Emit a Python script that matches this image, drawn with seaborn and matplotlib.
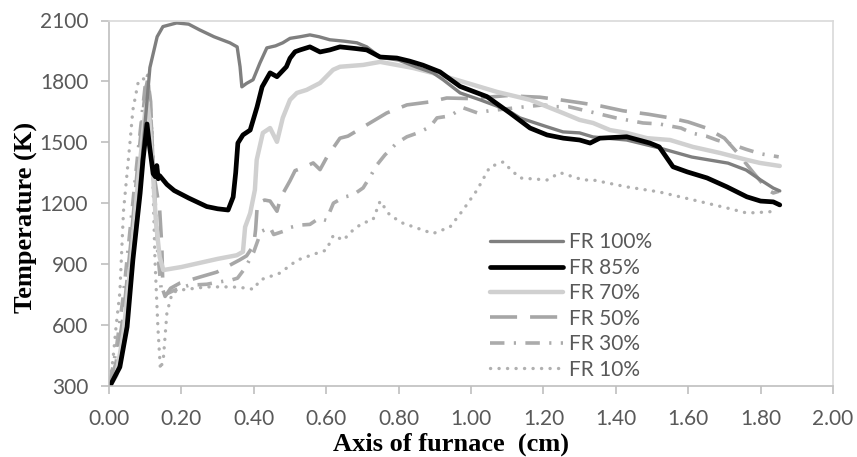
import matplotlib
matplotlib.use("Agg")
import matplotlib.pyplot as plt
import seaborn as sns
import pandas as pd

# ---------------- data ----------------
x100 = [0.003, 0.03, 0.05, 0.066, 0.086, 0.10, 0.113, 0.133, 0.149, 0.187, 0.22, 0.25, 0.29, 0.334, 0.354,
        0.362, 0.367, 0.38, 0.398, 0.417, 0.436, 0.46, 0.48, 0.50, 0.528, 0.555, 0.58, 0.61, 0.65, 0.685,
        0.712, 0.75, 0.80, 0.85, 0.895, 0.923, 0.97, 1.025, 1.099, 1.135, 1.21, 1.254, 1.30, 1.337, 1.43,
        1.52, 1.61, 1.71, 1.76, 1.80, 1.835, 1.853]
y100 = [300, 400, 600, 930, 1300, 1600, 1868, 2020, 2070, 2088, 2082, 2054, 2020, 1990, 1970,
        1872, 1773, 1790, 1808, 1891, 1965, 1975, 1990, 2012, 2020, 2029, 2020, 2005, 1998, 1990,
        1970, 1918, 1905, 1870, 1842, 1808, 1743, 1709, 1660, 1620, 1576, 1551, 1546, 1526, 1511,
        1472, 1427, 1397, 1363, 1314, 1274, 1260]

x85 = [0.003, 0.03, 0.05, 0.066, 0.086, 0.094, 0.105, 0.112, 0.122, 0.128, 0.132, 0.136, 0.14, 0.16, 0.18,
       0.22, 0.27, 0.30, 0.329, 0.343, 0.35, 0.356, 0.37, 0.39, 0.409, 0.423, 0.445, 0.464, 0.49, 0.50,
       0.514, 0.528, 0.555, 0.583, 0.61, 0.638, 0.68, 0.712, 0.749, 0.795, 0.83, 0.867, 0.914, 0.97,
       1.044, 1.107, 1.163, 1.21, 1.255, 1.30, 1.329, 1.356, 1.43, 1.494, 1.52, 1.558, 1.597, 1.652,
       1.707, 1.762, 1.80, 1.835, 1.853]
y85 = [300, 392, 590, 920, 1249, 1413, 1590, 1480, 1345, 1330, 1385, 1320, 1335, 1292, 1262,
       1225, 1183, 1172, 1166, 1230, 1350, 1496, 1536, 1560, 1674, 1773, 1842, 1823, 1872, 1914,
       1946, 1955, 1970, 1945, 1955, 1970, 1962, 1955, 1920, 1915, 1900, 1880, 1847, 1775,
       1725, 1645, 1570, 1536, 1520, 1511, 1496, 1520, 1527, 1496, 1477, 1379, 1354, 1324,
       1280, 1231, 1210, 1206, 1191]

x70 = [0.003, 0.02, 0.04, 0.06, 0.08, 0.10, 0.106, 0.112, 0.122, 0.13, 0.14, 0.15, 0.20, 0.25, 0.30,
       0.353, 0.37, 0.376, 0.39, 0.403, 0.408, 0.425, 0.445, 0.464, 0.48, 0.50, 0.519, 0.546, 0.583,
       0.619, 0.638, 0.702, 0.749, 0.84, 0.914, 0.978, 1.072, 1.163, 1.254, 1.30, 1.337, 1.384, 1.43,
       1.486, 1.55, 1.613, 1.688, 1.762, 1.798, 1.853]
y70 = [300, 350, 560, 900, 1300, 1650, 1700, 1600, 1329, 1100, 934, 870, 885, 905, 925,
       943, 960, 1082, 1150, 1265, 1413, 1546, 1570, 1502, 1620, 1709, 1743, 1758, 1792,
       1857, 1872, 1881, 1896, 1866, 1832, 1798, 1748, 1709, 1644, 1610, 1595, 1560, 1546,
       1520, 1511, 1477, 1447, 1413, 1398, 1383]

x50 = [0.003, 0.02, 0.04, 0.06, 0.08, 0.10, 0.107, 0.115, 0.122, 0.14, 0.146, 0.149, 0.155, 0.17, 0.196,
       0.25, 0.298, 0.36, 0.38, 0.40, 0.405, 0.41, 0.43, 0.445, 0.464, 0.475, 0.50, 0.514, 0.541, 0.564,
       0.583, 0.602, 0.638, 0.66, 0.72, 0.767, 0.823, 0.887, 0.933, 1.00, 1.10, 1.15, 1.19, 1.25, 1.30,
       1.36, 1.42, 1.49, 1.55, 1.60, 1.65, 1.70, 1.735, 1.78, 1.82, 1.835, 1.85]
y50 = [300, 420, 650, 1000, 1400, 1750, 1810, 1700, 1363, 1166, 983, 771, 740, 780, 806,
       835, 860, 919, 940, 993, 1070, 1200, 1215, 1210, 1160, 1230, 1310, 1360, 1378, 1398,
       1365, 1427, 1520, 1530, 1594, 1644, 1684, 1699, 1718, 1715, 1730, 1725, 1722, 1708, 1695,
       1678, 1655, 1638, 1620, 1600, 1570, 1520, 1450, 1350, 1265, 1250, 1258]

x30 = [0.003, 0.02, 0.04, 0.06, 0.08, 0.10, 0.107, 0.115, 0.125, 0.135, 0.145, 0.15, 0.18, 0.22, 0.27,
       0.30, 0.34, 0.355, 0.376, 0.40, 0.42, 0.445, 0.455, 0.48, 0.50, 0.53, 0.555, 0.58, 0.60, 0.62,
       0.65, 0.674, 0.702, 0.721, 0.74, 0.762, 0.795, 0.823, 0.853, 0.887, 0.906, 0.942, 0.978, 1.017,
       1.05, 1.10, 1.15, 1.20, 1.23, 1.27, 1.33, 1.40, 1.475, 1.52, 1.58, 1.61, 1.65, 1.68, 1.72, 1.76,
       1.80, 1.85]
y30 = [320, 480, 750, 1100, 1450, 1780, 1830, 1650, 1300, 950, 760, 745, 770, 795, 800,
       810, 822, 830, 880, 960, 1060, 1080, 1045, 1060, 1080, 1092, 1095, 1125, 1115, 1200,
       1230, 1240, 1275, 1329, 1388, 1437, 1496, 1527, 1546, 1576, 1620, 1630, 1670, 1645,
       1655, 1665, 1675, 1684, 1675, 1675, 1650, 1620, 1595, 1590, 1570, 1545, 1530, 1510, 1490, 1465,
       1443, 1428]

x10 = [0.003, 0.011, 0.02, 0.03, 0.04, 0.058, 0.066, 0.08, 0.09, 0.10, 0.11, 0.118, 0.122, 0.127, 0.135,
       0.142, 0.15, 0.16, 0.175, 0.20, 0.27, 0.34, 0.38, 0.40, 0.417, 0.44, 0.472, 0.52, 0.574, 0.60,
       0.62, 0.647, 0.674, 0.70, 0.729, 0.749, 0.776, 0.812, 0.867, 0.895, 0.942, 0.978, 1.017, 1.052,
       1.089, 1.107, 1.135, 1.21, 1.246, 1.31, 1.337, 1.43, 1.52, 1.613, 1.707, 1.762, 1.817, 1.845]
y10 = [330, 430, 600, 760, 1160, 1500, 1660, 1790, 1815, 1810, 1700, 1576, 1250, 920, 590,
       380, 430, 660, 760, 772, 787, 787, 781, 775, 821, 835, 855, 919, 953, 968,
       1042, 1017, 1067, 1101, 1117, 1210, 1140, 1101, 1067, 1050, 1082, 1166, 1265, 1378,
       1403, 1370, 1324, 1314, 1350, 1314, 1314, 1280, 1255, 1216, 1176, 1151, 1156, 1161]

labels = ["FR 100%", "FR 85%", "FR 70%", "FR 50%", "FR 30%", "FR 10%"]
xticks = [0.0, 0.2, 0.4, 0.6, 0.8, 1.0, 1.2, 1.4, 1.6, 1.8, 2.0]
yticks = [300, 600, 900, 1200, 1500, 1800, 2100]

# ---------------- plot ----------------
sns.set_theme(style="white")
plt.rcParams["font.family"] = ["Lato", "DejaVu Sans"]

fig = plt.figure(figsize=(8.57, 4.57), dpi=100)
ax = fig.add_axes([109 / 857, 1 - 385.7 / 457, 724 / 857, 365.2 / 457])

series = {
    "FR 100%": (x100, y100, dict(color="#7f7f7f", lw=2.4, linestyle="-")),
    "FR 85%": (x85, y85, dict(color="#000000", lw=3.4, linestyle="-")),
    "FR 70%": (x70, y70, dict(color="#d0d0d0", lw=3.2, linestyle="-")),
    "FR 50%": (x50, y50, dict(color="#a6a6a6", lw=2.6, linestyle=(0, (7.5, 3.6)))),
    "FR 30%": (x30, y30, dict(color="#ababab", lw=2.6, linestyle=(0, (4.0, 2.6, 0.6, 2.6)))),
    "FR 10%": (x10, y10, dict(color="#b0b0b0", lw=2.4, linestyle=(0, (0.05, 2.5)),
                              dash_capstyle="round")),
}

draw_order = ["FR 10%", "FR 30%", "FR 50%", "FR 70%", "FR 100%", "FR 85%"]
handles = {}
for name in draw_order:
    xs, ys, style = series[name]
    df = pd.DataFrame({"x": xs, "y": ys})
    sns.lineplot(data=df, x="x", y="y", ax=ax, sort=False, estimator=None,
                 label=name, **style)
    handles[name] = ax.get_lines()[-1]

ax.set_xlim(0, 2.0)
ax.set_ylim(300, 2100)
ax.set_xticks(xticks)
ax.set_xticklabels([f"{v:.2f}" for v in xticks])
ax.set_yticks(yticks)
ax.set_yticklabels([str(v) for v in yticks])

for side in ["top", "right"]:
    ax.spines[side].set_color("#d9d9d9")
    ax.spines[side].set_linewidth(1.2)
for side in ["left", "bottom"]:
    ax.spines[side].set_color("#bfbfbf")
    ax.spines[side].set_linewidth(1.2)

ax.tick_params(axis="both", which="major", direction="out", length=6, width=1.2,
               color="#bfbfbf", labelcolor="#595959", labelsize=15)
ax.tick_params(axis="x", bottom=True, pad=11)
ax.tick_params(axis="y", left=True, pad=9)

ax.set_xlabel("Axis of furnace  (cm)", family="Liberation Serif", fontweight="bold",
              fontsize=19, color="black")
ax.set_ylabel("Temperature (K)", family="Liberation Serif", fontweight="bold",
              fontsize=19, color="black")
ax.xaxis.set_label_coords(0.472, -0.128)
ax.yaxis.set_label_coords(-0.098, 0.46)

leg = ax.legend([handles[l] for l in labels], labels, loc="upper left",
                bbox_to_anchor=((490 - 109) / 724, (385.7 - 232.5) / 365.2),
                frameon=False, fontsize=15, handlelength=3.5, handletextpad=0.3,
                labelspacing=0.26, borderpad=0, borderaxespad=0)
for t in leg.get_texts():
    t.set_color("#595959")

fig.savefig("out.png", dpi=100)
